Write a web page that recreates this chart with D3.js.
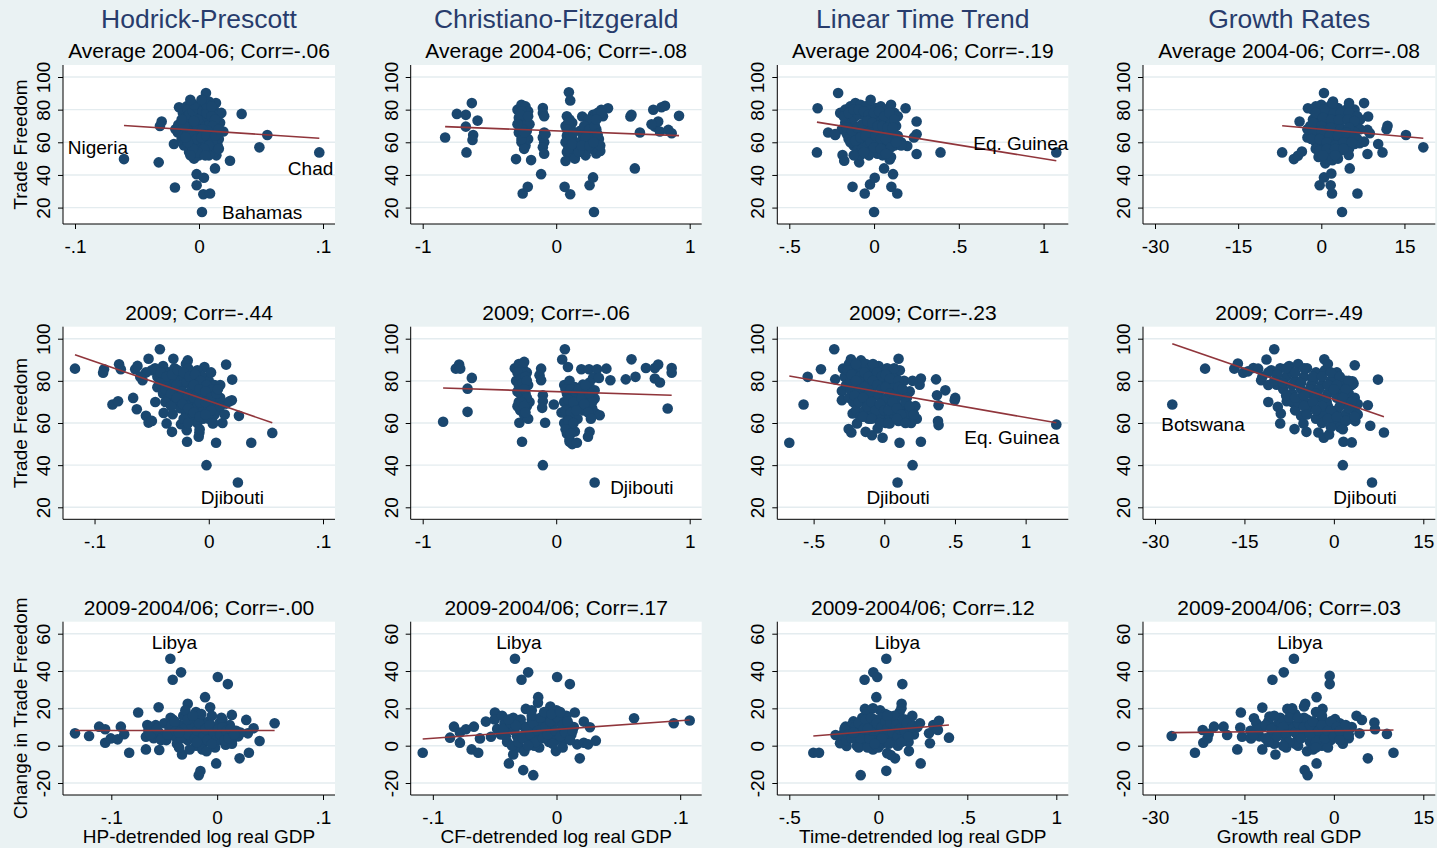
<!DOCTYPE html>
<html>
<head>
<meta charset="utf-8">
<script src="https://cdn.jsdelivr.net/npm/d3@7"></script>
<style>
  html, body { margin: 0; padding: 0; background: #eaf2f3; }
  svg { display: block; }
</style>
</head>
<body>
<svg id="chart" width="1437" height="848"></svg>
<script>
// ---------- labels and ticks ----------
const colTitles = ["Hodrick-Prescott", "Christiano-Fitzgerald", "Linear Time Trend", "Growth Rates"];
const panelTitles = [
  ["Average 2004-06; Corr=-.06", "Average 2004-06; Corr=-.08", "Average 2004-06; Corr=-.19", "Average 2004-06; Corr=-.08"],
  ["2009; Corr=-.44", "2009; Corr=-.06", "2009; Corr=-.23", "2009; Corr=-.49"],
  ["2009-2004/06; Corr=-.00", "2009-2004/06; Corr=.17", "2009-2004/06; Corr=.12", "2009-2004/06; Corr=.03"]
];
const xTickValues = [
  [[-0.1, 0, 0.1], [-1, 0, 1], [-0.5, 0, 0.5, 1], [-30, -15, 0, 15]],
  [[-0.1, 0, 0.1], [-1, 0, 1], [-0.5, 0, 0.5, 1], [-30, -15, 0, 15]],
  [[-0.1, 0, 0.1], [-0.1, 0, 0.1], [-0.5, 0, 0.5, 1], [-30, -15, 0, 15]]
];
const xTickLabels = [
  [["-.1", "0", ".1"], ["-1", "0", "1"], ["-.5", "0", ".5", "1"], ["-30", "-15", "0", "15"]],
  [["-.1", "0", ".1"], ["-1", "0", "1"], ["-.5", "0", ".5", "1"], ["-30", "-15", "0", "15"]],
  [["-.1", "0", ".1"], ["-.1", "0", ".1"], ["-.5", "0", ".5", "1"], ["-30", "-15", "0", "15"]]
];
const yTickValues = [[20, 40, 60, 80, 100], [20, 40, 60, 80, 100], [-20, 0, 20, 40, 60]];
const yTickLabels = [["20", "40", "60", "80", "100"], ["20", "40", "60", "80", "100"], ["-20", "0", "20", "40", "60"]];
const yTitles = ["Trade Freedom", "Trade Freedom", "Change in Trade Freedom"];
const xTitles = ["HP-detrended log real GDP", "CF-detrended log real GDP", "Time-detrended log real GDP", "Growth real GDP"];

// linear fit per panel: y = intercept + slope * x
const fitIntercept = [[67.3, 67.0, 66.7, 68.0], [70.5, 74.9, 74.4, 71.2], [8.1, 8.7, 8.0, 8.0]];
const fitSlope = [[-49.5, -3.14, -16.76, -0.2985], [-187, -1.99, -11.75, -0.975], [0, 47.2, 7.7, 0.0376]];

// ---------- scatter data: [output measure, trade freedom] ----------
const hpAvg = [
  [-0.0605,49.7],[-0.0325,47.7],[-0.0301,72.7],[-0.0315,70.0],[-0.0194,32.3],[-0.0161,81.5],[-0.0202,59.0],[-0.0167,70.7],
  [-0.0019,40.5],[-0.0019,33.7],[0.0040,38.3],[0.0035,28.2],[0.0089,28.6],[0.0024,17.3],[0.0056,90.2],[0.0137,84.0],
  [0.0129,44.0],[0.0250,48.7],[0.0344,77.4],[0.0196,66.6],[0.0487,56.9],[0.0551,64.5],[0.0970,53.8],[0.0116,79.9],
  [-0.013,78],[-0.010,82],[-0.006,84],[-0.003,80],[0.001,83],[0.004,81],[0.008,85],[0.012,80],[0.015,76],[0.017,72],
  [0.014,67],[0.010,62],[0.007,58],[0.003,54],[0.000,52],[-0.004,50],[-0.008,54],[-0.012,58],[-0.014,62],[-0.013,67],
  [-0.011,72],[-0.007,74],[-0.003,76],[0.001,77],[0.005,75],[0.009,73],[0.013,70],[0.009,67],[0.005,65],[0.001,66],
  [-0.003,64],[-0.007,62],[-0.010,65],[-0.006,58],[-0.002,56],[0.002,58],[0.006,61],[0.010,56],[0.014,52],[0.012,54],
  [-0.009,80],[-0.004,71],[0.003,70],[0.007,70],[-0.001,60],[0.016,62],[-0.017,66],[-0.019,68],[0.018,78],[-0.005,68],
  [0.011,78],[0.000,72],[-0.008,70],[0.004,62],[0.008,52],[0.015,58],[-0.002,69],
  [-0.011,75],[-0.008,77],[-0.005,79],[-0.001,81],[0.003,79],[0.006,78],[0.010,76],[0.013,74],[0.011,70],[0.007,67],
  [0.003,68],[-0.001,74],[-0.004,73],[-0.009,67],[-0.012,70],[-0.006,65],[-0.002,62],[0.002,63],[0.006,64],[0.011,60],
  [0.008,58],[0.004,56],[-0.001,54],[-0.005,56],[-0.009,60],[-0.011,63],[0.013,64],[0.016,68],[-0.004,83],[0.006,83],
  [0.002,86],[-0.007,86],[0.010,82],[-0.014,74],[0.016,56],[0.005,52],[-0.007,52]
];
const cfAvg = [
  [-0.832,62.9],[-0.744,77.4],[-0.677,76.8],[-0.677,69.6],[-0.672,53.8],[-0.632,84.0],[-0.622,64.5],[-0.627,61.4],
  [-0.589,73.3],[-0.301,49.7],[-0.251,28.6],[-0.213,32.7],[-0.188,49.1],[-0.113,40.5],
  [-0.29,80],[-0.26,83],[-0.23,82],[-0.28,75],[-0.24,78],[-0.21,79],[-0.27,72],[-0.24,70],[-0.22,74],[-0.28,66],
  [-0.25,64],[-0.22,67],[-0.26,60],[-0.23,58],[-0.21,62],[-0.24,56],[-0.20,71],[-0.27,68],[-0.25,75],
  [-0.10,81],[-0.10,78],[-0.09,76],[-0.09,66],[-0.10,63],[-0.09,60],[-0.10,57],[-0.09,53],[-0.08,65],
  [0.095,90.6],[0.105,85.6],[0.08,76],[0.10,74],[0.12,72],[0.07,70],[0.11,68],[0.08,64],[0.12,62],[0.07,60],
  [0.10,58],[0.13,56],[0.08,54],[0.11,52],[0.07,48.5],[0.14,50],[0.15,58],[0.063,32.7],[0.105,28.2],
  [0.195,75.8],[0.276,76.8],[0.338,79.9],[0.388,80.9],[0.30,53.2],[0.33,54.7],[0.25,33.7],[0.276,38.5],[0.283,17.3],
  [0.18,67],[0.20,63],[0.22,60],[0.24,70],[0.26,66],[0.28,72],[0.30,68],[0.32,62],[0.20,55],[0.23,58],
  [0.26,62],[0.29,76],[0.31,78],[0.35,76],[0.24,74],[0.18,60],[0.22,52],[0.27,56],[0.33,58],[0.17,54],
  [0.556,75.8],[0.564,76.8],[0.589,44.0],[0.627,66.0],[0.727,79.9],[0.739,69.6],[0.789,81.5],[0.815,82.4],
  [0.764,72.7],[0.777,66.6],[0.840,67.6],[0.865,65.5],[0.920,76.2],[0.714,71.1],
  [-0.26,79],[-0.23,76],[-0.27,77],[-0.22,71],[-0.25,68],[-0.29,71],[-0.23,63],[-0.26,62],[-0.24,66],[-0.21,76],
  [0.09,72],[0.09,66],[0.11,64],[0.09,56],[0.12,59],[0.08,68],[0.13,66],[0.21,70],[0.23,65],[0.25,68],
  [0.27,64],[0.29,70],[0.31,65],[0.22,63],[0.19,58],[0.25,58],[0.28,60],[0.34,78],[0.30,74]
];
const ltAvg = [
  [-0.333,80.9],[-0.337,53.8],[-0.271,66.0],[-0.212,90.2],[-0.229,64.5],[-0.186,52.2],[-0.176,48.7],[-0.127,32.7],
  [-0.088,47.7],[-0.055,28.6],[-0.024,34.2],[0.004,38.3],[0.000,17.3],[0.059,44.0],[0.092,49.5],[0.102,32.7],
  [0.112,40.5],[0.137,28.6],[0.186,80.9],[0.196,57.7],[0.251,72.7],[0.251,64.9],[0.235,63.0],[0.251,52.8],
  [0.392,53.8],[1.075,53.8],
  [-0.20,78],[-0.17,80],[-0.14,82],[-0.11,84],[-0.08,83],[-0.05,82],[-0.02,80],[0.01,81],[0.04,82],[0.07,80],
  [0.10,83],[0.12,78],[0.14,76],[0.13,70],[0.10,68],[0.07,72],[0.04,74],[0.01,76],[-0.02,74],[-0.05,76],
  [-0.08,77],[-0.11,76],[-0.14,73],[-0.17,72],[-0.19,68],[-0.16,65],[-0.13,63],[-0.10,66],[-0.07,68],[-0.04,70],
  [-0.01,68],[0.02,66],[0.05,64],[0.08,66],[0.11,63],[0.14,64],[0.16,60],[0.12,58],[0.09,60],[0.06,58],
  [0.03,60],[0.00,62],[-0.03,63],[-0.06,61],[-0.09,60],[-0.12,58],[-0.10,55],[-0.07,56],[-0.04,58],[-0.01,55],
  [0.02,53],[0.05,52],[0.08,55],[0.10,51],[-0.03,52],[-0.08,52],[-0.12,52],[-0.15,62],[-0.23,65],[0.16,58],
  [-0.02,86],[0.04,78],[-0.11,70],[0.06,70],[-0.05,66],[0.10,73],
  [-0.18,76],[-0.15,78],[-0.12,80],[-0.09,80],[-0.06,79],[-0.03,77],[0.00,78],[0.03,79],[0.06,76],[0.09,78],
  [0.12,74],[-0.16,69],[-0.13,67],[-0.10,69],[-0.07,71],[-0.04,73],[-0.01,72],[0.02,70],[0.05,70],[0.08,69],
  [0.11,69],[-0.14,60],[-0.11,61],[-0.08,63],[-0.05,64],[-0.02,60],[0.01,64],[0.04,62],[0.07,62],[0.10,57],
  [0.13,60],[-0.06,54],[0.00,57],[0.04,56],[0.07,53]
];
const grAvg = [
  [-7.06,53.8],[-4.95,49.7],[-4.22,51.8],[-3.5,54.3],[-3.92,72.7],[-2.41,80.9],[0.48,90.2],[2.11,85.0],
  [7.72,84.0],[8.45,75.8],[8.33,67.6],[8.75,65.5],[6.94,59.4],[7.72,60.4],[8.33,52.8],[10.26,59.0],
  [11.04,53.8],[11.95,70.1],[11.77,68.0],[15.27,64.5],[18.4,56.9],[5.13,44.0],[4.95,52.2],[-0.3,33.7],
  [0.48,38.5],[1.81,40.9],[1.69,33.7],[1.93,28.6],[0.72,47.1],[6.52,28.6],[3.74,17.3],
  [-1.5,80],[0,83],[1.5,82],[3,81],[4.5,80],[6,80],[5.5,76],[4,78],[2.5,76],[1,78],
  [-0.5,76],[-1.5,74],[-2,70],[-0.5,70],[1,72],[2.5,72],[4,74],[5.5,72],[6.5,70],[7,68],
  [5.5,67],[4,68],[2.5,66],[1,66],[-0.5,64],[-2,65],[-2.5,63],[-1,60],[0.5,61],[2,62],
  [3.5,62],[5,63],[6.5,62],[4.5,58],[3,58],[1.5,57],[0,58],[-1,56],[0.5,54],[2,54],
  [3.5,55],[5,56],[-0.5,51],[1,50],[2,49],[1.5,52],[3,50],[7,74],[6,66],[-2.5,68],
  [0,74],[3,70],[2,79],[5,84],[-1,66],[2.5,60],[4,64],[6,59],
  [-1,82],[0.5,80],[2,84],[3.5,78],[5,78],[6.5,76],[-1,78],[0.3,75],[1.8,74],[3.2,74],
  [4.8,74],[6,73],[-1.5,72],[0,70],[1.7,69],[3.5,68],[5,69],[-1.5,67],[0,67],[1.5,64],
  [3,64],[4.5,66],[6,64],[-1.8,62],[-0.3,62],[1,60],[2.5,58],[4,60],[5.5,60],[-0.3,55],
  [1,56],[2.5,56],[4,56],[0.3,52],[2.5,52]
];
const hp09 = [
  [-0.1171,85.8],[-0.0917,85.5],[-0.0925,83.9],[-0.0785,87.9],[-0.077,85.5],[-0.0843,68.8],[-0.0794,70.3],
  [-0.0662,71.9],[-0.063,66.5],[-0.0644,85.5],[-0.0624,87.1],[-0.058,80.3],[-0.0527,90.5],[-0.055,63.4],
  [-0.0527,60.2],[-0.0498,61.0],[-0.0468,70.0],[-0.0428,95.0],[-0.0395,64.8],[-0.0369,59.8],[-0.0322,55.8],
  [-0.0316,64.2],[-0.031,90.5],[-0.0243,59.4],[-0.0193,56.6],[-0.019,51.1],[-0.0184,89.7],[-0.0088,53.5],
  [-0.0082,55.5],[-0.0038,86.6],[-0.002,40.0],[0.0035,59.8],[0.0064,50.6],[0.0152,87.7],[0.0182,70.3],
  [0.0202,70.8],[0.0152,69.2],[0.0205,80.6],[0.0264,63.4],[0.0255,31.8],[0.0372,50.6],[0.0556,55.3],
  [-0.05,85],[-0.045,82],[-0.04,87],[-0.035,84],[-0.03,86],[-0.025,82],[-0.02,88],[-0.015,84],[-0.01,85],
  [-0.005,82],[0,80],[0.005,78],[0.01,78],[-0.045,77],[-0.04,80],[-0.035,78],[-0.03,75],[-0.025,77],
  [-0.02,79],[-0.015,76],[-0.01,74],[-0.005,72],[0,74],[0.005,70],[0.01,72],[-0.04,74],[-0.035,72],
  [-0.03,70],[-0.025,73],[-0.02,71],[-0.015,70],[-0.01,68],[-0.005,66],[0,68],[0.005,64],[-0.02,65],
  [-0.015,62],[-0.01,60],[-0.005,62],[0,62],[-0.025,67],[-0.03,80],[-0.055,84],[-0.06,82],[-0.012,80],
  [0.008,66],[0.012,60],[-0.008,57],[-0.018,86],[0.002,84],
  [-0.047,86],[-0.042,84],[-0.037,82],[-0.032,83],[-0.027,85],[-0.022,84],[-0.017,82],[-0.012,83],[-0.007,80],
  [-0.002,78],[0.003,76],[-0.043,79],[-0.038,76],[-0.033,74],[-0.028,78],[-0.023,75],[-0.018,73],[-0.013,78],
  [-0.008,76],[-0.003,75],[0.002,72],[0.007,74],[-0.038,70],[-0.033,68],[-0.028,72],[-0.023,69],[-0.018,67],
  [-0.013,72],[-0.008,70],[-0.003,70],[0.002,66],[-0.013,65],[-0.008,63],[-0.003,64],[0.004,60],[-0.022,62],
  [-0.018,60],[0.010,68],[0.014,64],[0.008,76]
];
const cf09 = [
  [-0.847,60.6],[-0.752,85.8],[-0.727,87.7],[-0.719,85.8],[-0.664,76.3],[-0.632,81.4],[-0.664,65.3],
  [-0.276,60.1],[-0.256,51.1],
  [-0.31,86],[-0.28,88],[-0.25,86],[-0.22,84],[-0.30,80],[-0.27,82],[-0.24,80],[-0.21,78],[-0.29,75],
  [-0.26,77],[-0.23,74],[-0.28,70],[-0.25,72],[-0.22,68],[-0.27,66],[-0.24,64],[-0.21,62],[-0.20,70],
  [-0.26,84],[-0.24,89],
  [-0.113,85.8],[-0.125,82.7],[-0.113,80.3],[-0.1,73.2],[-0.1,70.3],[-0.105,67.2],[-0.083,60.1],[-0.1,40.0],
  [-0.018,68.8],[0.065,95.0],[0.045,90.1],[0.088,86.6],
  [0.06,78],[0.10,80],[0.14,77],[0.08,74],[0.12,72],[0.16,70],[0.06,70],[0.10,68],[0.14,66],[0.08,64],
  [0.12,62],[0.06,60],[0.10,58],[0.14,56],[0.08,55],[0.12,50],[0.10,52],[0.18,68],[0.20,75],[0.22,72],
  [0.16,62],[0.04,65],[0.20,66],[0.10,51.1],[0.155,50.6],
  [0.188,85.5],[0.246,85.5],[0.306,85.5],[0.376,85.8],[0.276,81.4],[0.32,81.4],[0.406,80.3],[0.20,78.2],
  [0.25,79.2],[0.288,75.5],[0.288,71.6],[0.27,66.9],[0.296,64.5],[0.326,63.7],[0.25,55.8],[0.238,53.5],
  [0.288,31.8],[0.521,80.7],[0.564,90.2],[0.594,81.9],[0.672,86.1],[0.739,86.1],[0.764,87.7],[0.739,81.1],
  [0.777,79.2],[0.865,86.1],[0.865,83.9],[0.835,66.9],
  [-0.29,84],[-0.26,81],[-0.23,82],[-0.28,78],[-0.25,79],[-0.22,80],[-0.27,74],[-0.24,76],[-0.22,72],
  [-0.29,68],[-0.26,70],[-0.24,68],[-0.23,65],[0.07,76],[0.11,76],[0.15,74],[0.09,71],[0.13,70],[0.07,66],
  [0.11,65],[0.09,61],[0.13,60],[0.07,57],[0.11,55],[0.15,66],[0.17,76],[0.19,72],[0.23,76],[0.25,74],
  [0.27,70],[0.21,69],[0.24,65],[0.26,62],[0.22,78]
];
const lt09 = [
  [-0.672,50.6],[-0.571,68.8],[-0.542,81.9],[-0.448,85.5],[-0.354,95.0],[-0.347,80.7],[-0.3,75.2],[-0.3,70.8],
  [-0.292,85.8],[-0.252,57.1],[-0.233,55.5],[-0.224,64.5],[-0.193,59.8],[-0.236,90.2],[-0.165,89.7],
  [-0.132,55.8],[-0.087,54.2],[-0.047,57.4],[-0.012,53.0],[0.038,59.8],[0.101,90.5],[0.108,50.6],[0.094,31.8],
  [0.2,40.0],[0.259,51.1],[0.259,81.1],[0.25,78.2],[0.366,80.7],[0.384,59.0],[0.38,60.9],[0.432,75.5],
  [0.373,73.2],[0.384,68.4],[0.502,71.9],[0.498,70.8],[1.217,59.3],
  [-0.28,82],[-0.25,88],[-0.22,86],[-0.19,84],[-0.16,86],[-0.13,88],[-0.10,86],[-0.07,84],[-0.04,87],
  [-0.01,85],[0.02,86],[0.05,84],[0.08,82],[0.11,85],[0.14,80],[-0.27,78],[-0.24,80],[-0.21,76],[-0.18,78],
  [-0.15,80],[-0.12,78],[-0.09,76],[-0.06,80],[-0.03,78],[0.00,80],[0.03,76],[0.06,78],[0.09,75],[0.12,73],
  [-0.25,72],[-0.22,70],[-0.19,72],[-0.16,74],[-0.13,70],[-0.10,72],[-0.07,68],[-0.04,73],[-0.01,70],
  [0.02,72],[0.05,68],[0.08,70],[0.11,66],[0.14,68],[0.17,65],[0.20,66],[0.23,62],[-0.20,66],[-0.17,63],
  [-0.14,66],[-0.11,62],[-0.08,65],[-0.05,62],[-0.02,64],[0.01,60],[0.04,63],[0.07,64],[0.10,61],[0.13,62],
  [0.16,64],[0.19,60],[0.22,68],[0.18,75],[0.20,80],
  [-0.26,85],[-0.23,83],[-0.20,88],[-0.17,82],[-0.14,84],[-0.11,82],[-0.08,88],[-0.05,84],[-0.02,82],[0.01,83],
  [0.04,81],[0.07,86],[0.10,80],[-0.24,76],[-0.20,80],[-0.17,76],[-0.14,77],[-0.11,74],[-0.08,80],[-0.05,78],
  [-0.02,76],[0.01,77],[0.04,74],[0.07,73],[0.10,77],[0.13,76],[0.16,72],[-0.21,73],[-0.18,70],[-0.15,72],
  [-0.12,68],[-0.09,70],[-0.06,66],[-0.03,69],[0.00,66],[0.03,66],[0.06,70],[0.09,67],[0.12,64],[0.15,70],
  [0.18,68],[0.21,64],[-0.15,63],[-0.09,62],[-0.03,60],[0.03,60],[0.09,62],[0.15,60]
];
const gr09 = [
  [-27.1,68.8],[-21.6,85.8],[-16.7,85.8],[-16.1,88.2],[-15.2,83.9],[-14.4,84.5],[-13.5,86.1],[-12.7,85.8],
  [-12.2,80.3],[-11.3,90.1],[-10.0,95.0],[-11.0,70.0],[-9.6,78.2],[-9.4,67.7],[-8.9,64.5],[-9.0,59.8],
  [-7.9,70.3],[-6.6,57.1],[-5.5,63.4],[-5.1,59.8],[-4.6,55.8],[-4.3,69.2],[-2.6,55.5],[-1.7,53.0],[-0.8,54.6],
  [-1.6,90.2],[1.5,40.0],[1.6,51.1],[3.0,50.8],[3.5,87.4],[3.3,78.7],[3.1,79.8],[3.6,60.9],[5.7,68.4],
  [6.1,58.7],[6.4,31.8],[7.4,80.6],[8.4,55.5],
  [-12,82],[-10.5,85],[-9,86],[-7.5,87],[-6,88],[-4.5,86],[-3,84],[-1.5,85],[0,82],[1.5,80],[3,78],
  [-11,78],[-9.5,80],[-8,82],[-6.5,80],[-5,82],[-3.5,80],[-2,78],[-0.5,80],[1,76],[2.5,74],[-8.5,76],
  [-7,74],[-5.5,76],[-4,74],[-2.5,72],[-1,74],[0.5,72],[2,70],[3.5,72],[-7,70],[-5.5,72],[-4,68],
  [-2.5,66],[-1,68],[0.5,66],[2,64],[3.5,66],[-6.5,66],[-3,62],[-1.5,64],[0,62],[1.5,60],[3,62],[4,64],
  [-2,60],[0,60],[1,58],[-1.2,70],[-3.8,78],[0.5,84],[2,80],[-1,88],[-7,84],[-6,70],[4,69],
  [-11,84],[-9.5,83],[-8,86],[-6.5,84],[-5,86],[-3.5,82],[-2,82],[-0.5,84],[1,82],[2.5,80],
  [-10,80],[-8.5,79],[-7,78],[-5.5,79],[-4,76],[-2.5,76],[-1,78],[0.5,78],[2,76],[-8,73],
  [-6.5,72],[-5,73],[-3,74],[-1.5,72],[0,76],[1.5,72],[3,70],[-5,68],[-3.5,70],[-2,68],
  [-0.5,66],[1,68],[2.5,67],[-4.5,64],[-3,66],[-1,62],[0.5,63],[2,61],[3.5,63],[-0.5,58],[1.5,57]
];
const hpChg = [
  [-0.1343,6.6],[-0.121,5.2],[-0.1115,10.2],[-0.1058,8.8],[-0.1058,1.6],[-0.1005,3.9],[-0.091,10.2],
  [-0.0878,6.1],[-0.094,3.4],[-0.0831,-3.8],[-0.0746,17.8],[-0.0673,-2.0],[-0.066,11.1],[-0.0673,4.8],
  [-0.0547,-2.3],[-0.0553,20.6],[-0.0442,46.6],[-0.042,35.3],[-0.0341,39.3],[-0.0332,-4.7],[-0.0278,22.4],
  [-0.0174,-15.8],[-0.0158,-13.6],[-0.0114,26.0],[-0.0066,20.6],[0.0006,36.8],[-0.0009,-9.5],[0.0101,33.0],
  [0.0139,16.5],[0.0212,-6.8],[0.0275,13.8],[0.03,-3.8],[0.029,6.6],[0.0344,9.3],[0.0401,2.5],[0.0543,12.0],
  [-0.065,8],[-0.06,4],[-0.058,11],[-0.055,7],[-0.05,12],[-0.048,3],[-0.045,9],[-0.042,14],[-0.04,5],
  [-0.038,1],[-0.035,11],[-0.032,16],[-0.03,7],[-0.028,3],[-0.025,13],[-0.022,9],[-0.02,0],[-0.018,5],
  [-0.016,15],[-0.015,11],[-0.012,2],[-0.01,7],[-0.008,13],[-0.006,4],[-0.004,10],[-0.002,-1],[0,6],
  [0.002,12],[0.004,3],[0.006,9],[0.008,0.5],[0.01,6],[0.012,11],[0.015,4],[0.018,8],[0.02,5],
  [-0.036,-1],[-0.026,-2],[-0.014,-2],[-0.052,5],[-0.044,15],[-0.02,18],[-0.03,19],[-0.005,16],[0.005,14],
  [-0.062,10],[0.014,1],[-0.01,-3],[0.022,7],[-0.024,4],[-0.008,9],
  [-0.063,6],[-0.057,9],[-0.053,3],[-0.047,6],[-0.043,11],[-0.039,8],[-0.034,4],[-0.031,9],[-0.027,6],
  [-0.024,11],[-0.021,4],[-0.019,8],[-0.017,12],[-0.013,5],[-0.011,9],[-0.009,3],[-0.007,11],[-0.003,7],
  [-0.001,3],[0.001,9],[0.003,6],[0.005,10],[0.007,3],[0.009,8],[0.011,4],[0.013,9],[0.016,6],[-0.04,13],
  [-0.028,14],[-0.019,2],[-0.005,1],[0.004,15],[-0.015,17],[-0.036,7],[-0.023,16]
];
const cfChg = [
  [-0.1082,-3.8],[-0.0861,4.3],[-0.0829,10.2],[-0.0781,1.6],[-0.0781,7.0],[-0.0732,8.8],[-0.0686,-2.0],
  [-0.0633,-3.8],[-0.0668,10.2],[-0.0619,3.9],[-0.0571,12.9],[-0.0498,17.8],[-0.053,4.8],[-0.0385,-9.5],
  [-0.035,-4.7],[-0.0336,46.6],[-0.0283,35.3],[-0.0229,39.3],[-0.0269,-13.1],[-0.0188,-15.8],[-0.0248,19.7],
  [-0.0148,26.0],[0.0005,36.8],[0.0108,33.0],[-0.0005,-2.9],[0.0148,17.8],[0.0188,-6.8],[0.0167,0.7],
  [0.0221,1.6],[0.0256,0.7],[0.0221,12.9],[0.027,9.9],[0.0318,2.7],[0.0627,14.7],[0.0948,12.0],[0.1077,13.5],
  [-0.045,6],[-0.042,12],[-0.04,2],[-0.038,9],[-0.035,15],[-0.032,5],[-0.03,-1],[-0.028,11],[-0.025,7],
  [-0.022,2],[-0.02,14],[-0.018,9],[-0.016,4],[-0.014,-1],[-0.012,12],[-0.01,7],[-0.008,17],[-0.006,2],
  [-0.004,10],[-0.002,5],[0,19],[0.002,13],[0.004,8],[0.006,3],[0.008,16],[0.01,11],[0.012,6],[0.014,10],
  [-0.036,0],[-0.026,-3],[-0.015,23],[-0.005,21],[0.005,-1],[-0.048,9],[-0.05,14],[-0.044,16],[-0.02,19],
  [-0.01,15],[-0.03,12],[0,3],[-0.018,0],
  [-0.043,9],[-0.041,5],[-0.037,12],[-0.034,8],[-0.031,2],[-0.029,14],[-0.027,4],[-0.024,10],[-0.021,6],
  [-0.019,12],[-0.017,2],[-0.015,8],[-0.013,15],[-0.011,4],[-0.009,10],[-0.007,6],[-0.005,13],[-0.003,1],
  [-0.001,8],[0.001,15],[0.003,5],[0.005,11],[0.007,7],[0.009,13],[0.011,3],[0.013,8],[-0.01,18],
  [-0.004,17],[0.003,18],[-0.02,16],[-0.033,11],[-0.039,14],[-0.023,0]
];
const ltChg = [
  [-0.365,-3.8],[-0.333,-3.8],[-0.24,5.7],[-0.215,1.3],[-0.178,-0.2],[-0.184,10.2],[-0.099,-15.8],
  [-0.077,35.3],[-0.028,39.3],[-0.006,36.8],[-0.011,26.0],[-0.075,19.7],[0.045,46.6],[0.045,-13.5],
  [0.094,-6.8],[0.135,33.0],[0.131,22.4],[0.172,-2.9],[0.238,-9.5],[0.191,16.0],[0.234,12.0],[0.29,1.3],
  [0.285,6.6],[0.309,11.1],[0.341,13.3],[0.335,8.4],[0.397,4.3],
  [-0.2,6],[-0.18,3],[-0.16,9],[-0.14,13],[-0.13,4],[-0.12,0],[-0.1,10],[-0.09,15],[-0.08,6],[-0.07,2],
  [-0.06,18],[-0.05,11],[-0.04,7],[-0.03,-2],[-0.02,14],[-0.01,4],[0,9],[0.01,19],[0.02,1],[0.03,12],
  [0.04,6],[0.05,-4],[0.06,16],[0.07,9],[0.08,3],[0.09,13],[0.1,7],[0.11,0],[0.12,18],[0.13,11],
  [0.14,5],[0.15,14],[0.16,8],[0.17,2],[0.18,12],[0.2,6],[0.22,10],[-0.11,-1],[-0.15,11],[-0.06,-1],
  [0.0,-1],[0.06,4],[0.1,2],[-0.03,20],[0.04,17],[-0.08,12],[0.02,15],[-0.11,6],[0.07,-5],[0.13,20],
  [-0.19,9],[-0.17,6],[-0.15,4],[-0.13,10],[-0.11,12],[-0.1,4],[-0.08,9],[-0.07,14],[-0.05,4],[-0.04,15],
  [-0.03,8],[-0.01,12],[0,2],[0.01,7],[0.02,10],[0.03,5],[0.04,13],[0.05,9],[0.06,1],[0.07,12],
  [0.08,7],[0.09,16],[0.1,11],[0.11,5],[0.12,9],[0.13,2],[0.14,14],[0.15,8],[0.16,12],[0.17,5],
  [0.19,10],[-0.14,7],[-0.06,9],[0.02,4],[-0.02,1],[0.05,16]
];
const grChg = [
  [-27.2,5.2],[-23.3,-3.8],[-21.9,1.6],[-21.2,3.9],[-22.0,8.4],[-21.0,6.3],[-20.1,10.2],[-18.5,10.2],
  [-17.9,5.7],[-16.2,-2.0],[-15.6,17.8],[-15.7,9.7],[-15.4,4.8],[-13.9,3.9],[-13.4,14.7],[-12.0,20.4],
  [-12.0,-2.0],[-10.8,15.6],[-10.3,35.3],[-9.8,-4.7],[-8.4,39.3],[-7.8,19.7],[-6.7,46.6],[-4.9,-13.1],
  [-4.4,-15.8],[-4.8,22.4],[-2.9,26.0],[-2.9,-9.5],[-1.9,19.7],[-0.7,37.5],[-0.7,33.0],[0.2,14.2],
  [3.8,16.0],[4.7,13.8],[4.3,6.6],[5.7,-6.8],[6.8,12.4],[6.9,8.8],[8.9,6.3],[10.0,-3.8],
  [-14,8],[-13,12],[-12.5,5],[-12,10],[-11,13],[-10.5,6],[-10,1],[-9.5,11],[-9,15],[-8.5,7],[-8,3],
  [-7.5,12],[-7,9],[-6.5,17],[-6,4],[-6,0],[-5.5,11],[-5,7],[-4.5,14],[-4.5,-3],[-4,2],[-3.5,9],
  [-3,18],[-3,5],[-2.5,12],[-2,0],[-1.5,7],[-1,11],[-0.5,3],[0,9],[0.5,6],[1,12],[1.5,1],[2,8],
  [2.5,4],[3,10],[-8,-1],[-11,2],[-7,20],[-5,21],[-2,15],[-9,9],[-1,-1],[0,13],[1.5,4],[-3.5,-2],[-6.5,1],
  [-13.5,6],[-12.5,9],[-11.5,11],[-11.5,4],[-10.5,9],[-9.5,5],[-9,13],[-8.5,10],[-8,6],[-7.5,15],
  [-7.5,2],[-6.5,7],[-6,12],[-5.5,4],[-5,10],[-5,15],[-4,6],[-4,11],[-3.5,13],[-3,2],[-2.5,8],
  [-2,11],[-1.5,4],[-1,8],[-0.5,13],[0,5],[0.5,10],[1,3],[1,8],[2,11],[2.5,6],[-6,15],[-2,16],
  [-10,16],[-3,-1],[-8.5,0]
];

// labelled countries: panel [row, col], point value
const labelText  = ["Nigeria", "Chad", "Bahamas", "Eq. Guinea", "Djibouti", "Djibouti", "Eq. Guinea", "Djibouti", "Botswana", "Djibouti", "Libya", "Libya", "Libya", "Libya"];
const labelPanel = [[0,0],[0,0],[0,0],[0,2],[1,0],[1,1],[1,2],[1,2],[1,3],[1,3],[2,0],[2,1],[2,2],[2,3]];
const labelX     = [-0.0605, 0.097, 0.0024, 1.075, 0.0255, 0.288, 1.217, 0.094, -27.1, 6.4, -0.0442, -0.0336, 0.045, -6.7];
const labelY     = [49.7, 53.8, 17.3, 53.8, 31.8, 31.8, 59.3, 31.8, 68.8, 31.8, 46.6, 46.6, 46.6, 46.6];

// ---------- drawing ----------
const W = 1437, H = 848;
const FONT = "'Liberation Sans', Arial, Helvetica, sans-serif";
const NAVY = "#1a476f", MAROON = "#90353b", TITLE = "#283c6c", GRID = "#e4ecef";

// label placement relative to the marked point (pixels)
const labelPlace = [
  {dx: 4, dy: -12, anchor: "end"}, {dx: 14, dy: 16, anchor: "end"}, {dx: 20, dy: 0.5, anchor: "start"},
  {dx: 12, dy: -9, anchor: "end"}, {dx: -5.5, dy: 15, anchor: "middle"}, {dx: 15.5, dy: 5, anchor: "start"},
  {dx: 3, dy: 13, anchor: "end"}, {dx: 0.5, dy: 14.5, anchor: "middle"}, {dx: -11, dy: 20, anchor: "start"},
  {dx: -7, dy: 15, anchor: "middle"}, {dx: 4, dy: -16, anchor: "middle"}, {dx: 4, dy: -16, anchor: "middle"},
  {dx: 11, dy: -16, anchor: "middle"}, {dx: 6, dy: -16, anchor: "middle"}
];

const colLeft = [63, 410.7, 777.3, 1143], colRight = [335, 701.7, 1068.3, 1435.3];
const rowTop = [65, 326.7, 621.7], rowBottom = [224, 519.3, 795];
const pad = 12;
const points = [[hpAvg, cfAvg, ltAvg, grAvg], [hp09, cf09, lt09, gr09], [hpChg, cfChg, ltChg, grChg]];

const svg = d3.select("#chart");
svg.append("rect").attr("width", W).attr("height", H).attr("fill", "#eaf2f3");

const scales = {};

for (let r = 0; r < 3; r++) {
  for (let c = 0; c < 4; c++) {
    const data = points[r][c];
    const ticksX = xTickValues[r][c], labsX = xTickLabels[r][c];
    const L = colLeft[c], R = colRight[c], T = rowTop[r], B = rowBottom[r];
    const x = d3.scaleLinear()
      .domain(d3.extent(data.map(d => d[0]).concat(ticksX)))
      .range([L + pad, R - pad]);
    const y = d3.scaleLinear()
      .domain(d3.extent(data.map(d => d[1]).concat(yTickValues[r])))
      .range([B - pad, T + pad]);
    scales[r + "-" + c] = {x, y};

    const g = svg.append("g");
    g.append("rect").attr("x", L).attr("y", T).attr("width", R - L).attr("height", B - T).attr("fill", "#ffffff");

    g.selectAll("line.grid").data(yTickValues[r]).join("line").attr("class", "grid")
      .attr("x1", L).attr("x2", R).attr("y1", d => y(d)).attr("y2", d => y(d))
      .attr("stroke", GRID).attr("stroke-width", 1.4);

    g.selectAll("circle").data(data).join("circle")
      .attr("cx", d => x(d[0])).attr("cy", d => y(d[1])).attr("r", 5.3).attr("fill", NAVY);

    const [x0, x1] = d3.extent(data, d => d[0]);
    g.append("line")
      .attr("x1", x(x0)).attr("y1", y(fitIntercept[r][c] + fitSlope[r][c] * x0))
      .attr("x2", x(x1)).attr("y2", y(fitIntercept[r][c] + fitSlope[r][c] * x1))
      .attr("stroke", MAROON).attr("stroke-width", 1.6);

    // x axis
    const gx = g.append("g").attr("transform", `translate(0,${B})`)
      .call(d3.axisBottom(x).tickValues(ticksX).tickFormat((d, i) => labsX[i]).tickSize(5).tickSizeOuter(0));
    gx.select(".domain").remove();
    gx.selectAll(".tick line").attr("stroke", "#000");
    gx.selectAll(".tick text").attr("y", 22).attr("dy", "0.35em")
      .attr("font-size", 19).attr("font-family", FONT).attr("fill", "#000");
    g.append("line").attr("x1", L).attr("x2", R).attr("y1", B).attr("y2", B).attr("stroke", "#000").attr("stroke-width", 1);

    // y axis with vertical labels
    const gy = g.append("g").attr("transform", `translate(${L},0)`)
      .call(d3.axisLeft(y).tickValues(yTickValues[r]).tickFormat((d, i) => yTickLabels[r][i]).tickSize(5).tickSizeOuter(0));
    gy.select(".domain").remove();
    gy.selectAll(".tick line").attr("stroke", "#000");
    gy.selectAll(".tick text")
      .attr("x", null).attr("dy", null)
      .attr("text-anchor", "middle")
      .attr("transform", `translate(${-20 + 0.36 * 19},0) rotate(-90)`)
      .attr("font-size", 19).attr("font-family", FONT).attr("fill", "#000");
    g.append("line").attr("x1", L).attr("x2", L).attr("y1", T).attr("y2", B).attr("stroke", "#000").attr("stroke-width", 1);

    // panel subtitle
    g.append("text").attr("x", (L + R) / 2).attr("y", T - 14.2).attr("dy", "0.35em")
      .attr("text-anchor", "middle").attr("font-size", 21).attr("font-family", FONT).attr("fill", "#000")
      .text(panelTitles[r][c]);

    if (r === 0) {
      g.append("text").attr("x", (L + R) / 2).attr("y", 19.2).attr("dy", "0.35em")
        .attr("text-anchor", "middle").attr("font-size", 26.5).attr("font-family", FONT).attr("fill", TITLE)
        .text(colTitles[c]);
    }
    if (r === 2) {
      g.append("text").attr("x", (L + R) / 2).attr("y", 836.5).attr("dy", "0.35em")
        .attr("text-anchor", "middle").attr("font-size", 19).attr("font-family", FONT).attr("fill", "#000")
        .text(xTitles[c]);
    }
    if (c === 0) {
      g.append("text").attr("transform", `translate(${20.3 + 0.36 * 19},${(T + B) / 2}) rotate(-90)`)
        .attr("text-anchor", "middle").attr("font-size", 19).attr("font-family", FONT).attr("fill", "#000")
        .text(yTitles[r]);
    }
  }
}

// country labels
labelText.forEach((t, i) => {
  const [r, c] = labelPanel[i];
  const s = scales[r + "-" + c];
  const p = labelPlace[i];
  svg.append("text")
    .attr("x", s.x(labelX[i]) + p.dx).attr("y", s.y(labelY[i]) + p.dy).attr("dy", "0.35em")
    .attr("text-anchor", p.anchor).attr("font-size", 19).attr("font-family", FONT).attr("fill", "#000")
    .text(t);
});
</script>
</body>
</html>
